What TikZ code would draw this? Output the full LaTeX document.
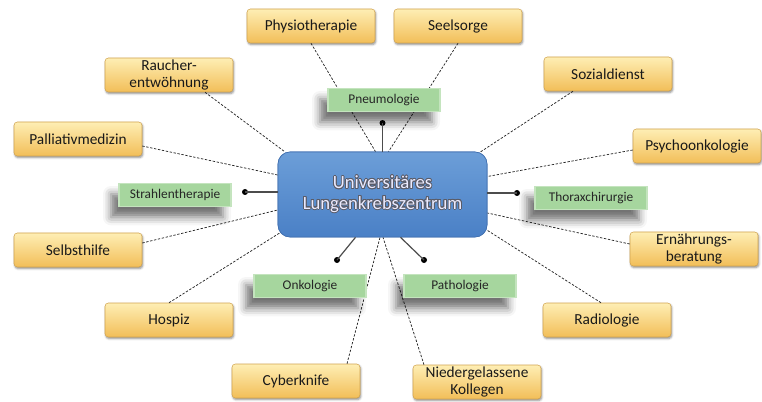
\documentclass[tikz,border=0pt]{standalone}
\usepackage{fontspec}
\setmainfont{Carlito}
\usepackage{contour}
\contourlength{0.6pt}
\usetikzlibrary{calc,shadows.blur}
\definecolor{gelbhell}{RGB}{254,238,180}
\definecolor{gelbdunkel}{RGB}{242,190,88}
\definecolor{gelbrand}{RGB}{210,164,80}
\definecolor{gruen}{RGB}{166,214,158}
\definecolor{gruenrand}{RGB}{196,228,190}
\definecolor{blauhell}{RGB}{108,158,216}
\definecolor{blaudunkel}{RGB}{74,128,198}
\definecolor{blaurand}{RGB}{66,112,176}
\definecolor{umriss}{RGB}{90,92,104}
\tikzstyle{fach}=[rectangle,rounded corners=2.5pt,draw=gelbrand,line width=0.4pt,top color=gelbhell,bottom color=gelbdunkel,minimum width=96pt,minimum height=25.5pt,inner sep=1pt,align=center,text=black!90,font=\fontsize{11.5}{13}\selectfont,blur shadow={shadow xshift=0.6pt,shadow yshift=-1.2pt,shadow blur radius=1.5pt,shadow opacity=45}]
\tikzstyle{abteilung}=[rectangle,draw=gruenrand,line width=0.8pt,fill=gruen,minimum width=84pt,minimum height=17.5pt,inner sep=1pt,text=black!85,font=\fontsize{10}{12}\selectfont,blur shadow={shadow xshift=-6pt,shadow yshift=-8pt,shadow blur radius=6pt,shadow opacity=55}]
\tikzstyle{hub}=[rectangle,rounded corners=9pt,draw=blaurand,line width=0.5pt,top color=blauhell,bottom color=blaudunkel,minimum width=156.75pt,minimum height=63.75pt,align=center,text=white!92!blue,font=\fontsize{14}{15.5}\selectfont]
\tikzstyle{link}=[draw,black!85,line width=0.55pt,dash pattern=on 1.8pt off 1.2pt]
\tikzstyle{stiel}=[draw,black!70,line width=0.9pt]
\tikzstyle{punkt}=[circle,fill=black,inner sep=0pt,minimum size=4.5pt]

\begin{document}
\begin{tikzpicture}[x=0.75pt,y=-0.75pt]
  \useasboundingbox (0,0) rectangle (762,402);

  \node[fach] (physio) at (311,26) {Physiotherapie};
  \node[fach] (seel) at (458,26) {Seelsorge};
  \node[fach] (raucher) at (169,75) {Raucher-\\entwöhnung};
  \node[fach] (sozial) at (608,74) {Sozialdienst};
  \node[fach] (pall) at (78,139) {Palliativmedizin};
  \node[fach] (psycho) at (697,146) {Psychoonkologie};
  \node[fach] (selbst) at (78,250) {Selbsthilfe};
  \node[fach] (ernaehr) at (694,249) {Ernährungs-\\beratung};
  \node[fach] (hospiz) at (169,320) {Hospiz};
  \node[fach] (radio) at (607,320) {Radiologie};
  \node[fach] (cyber) at (296,381) {Cyberknife};
  \node[fach] (nieder) at (477,382) {Niedergelassene\\Kollegen};

  \node[hub] (zentrum) at (382.5,194.5) {};

  \path[link] (physio.south) -- ($(zentrum.north)+(-7,0)$);
  \path[link] (seel.south) -- ($(zentrum.north)+(6,0)$);
  \path[link] ($(sozial.south)+(-35,0)$) -- ($(zentrum.north east)+(-8,1)$);
  \path[link] ($(psycho.west)+(0,4)$) -- ($(zentrum.east)+(0,-18)$);
  \path[link] ($(raucher.south)+(36,0)$) -- ($(zentrum.north west)+(7,0)$);
  \path[link] ($(pall.east)+(0,7)$) -- ($(zentrum.west)+(0,-19.5)$);
  \path[link] ($(selbst.east)+(0,-7)$) -- ($(zentrum.west)+(0,15.5)$);
  \path[link] (hospiz.north) -- ($(zentrum.south west)+(3,-5)$);
  \path[link] ($(cyber.north)+(51,0)$) -- ($(zentrum.south)+(-2.5,0)$);
  \path[link] ($(nieder.north)+(-53,0)$) -- ($(zentrum.south)+(0.5,0)$);
  \path[link] ($(ernaehr.west)+(0,-5)$) -- ($(zentrum.east)+(0,18.5)$);
  \path[link] ($(radio.north)+(-6,0)$) -- ($(zentrum.south east)+(0,-7)$);

  \node[hub] at (zentrum) {\contour{umriss}{Universitäres}\\\contour{umriss}{Lungenkrebszentrum}};

  \node[abteilung] (pneumo) at (384,100) {Pneumologie};
  \node[abteilung] (strahl) at (175,195) {Strahlentherapie};
  \node[abteilung] (thorax) at (591,198) {Thoraxchirurgie};
  \node[abteilung] (onko) at (310,286) {Onkologie};
  \node[abteilung] (patho) at (460,286) {Pathologie};

  \node[punkt] (dpneumo) at (382.5,123) {};
  \node[punkt] (dstrahl) at (245,192) {};
  \node[punkt] (dthorax) at (517,193) {};
  \node[punkt] (donko) at (337,260) {};
  \node[punkt] (dpatho) at (424,260) {};

  \path[stiel] (dpneumo.center) -- (zentrum.north);
  \path[stiel] (dstrahl.center) -- (dstrahl -| zentrum.west);
  \path[stiel] (dthorax.center) -- (dthorax -| zentrum.east);
  \path[stiel] (donko.center) -- ($(zentrum.south)+(-27,0)$);
  \path[stiel] (dpatho.center) -- ($(zentrum.south)+(18,0)$);
\end{tikzpicture}
\end{document}
